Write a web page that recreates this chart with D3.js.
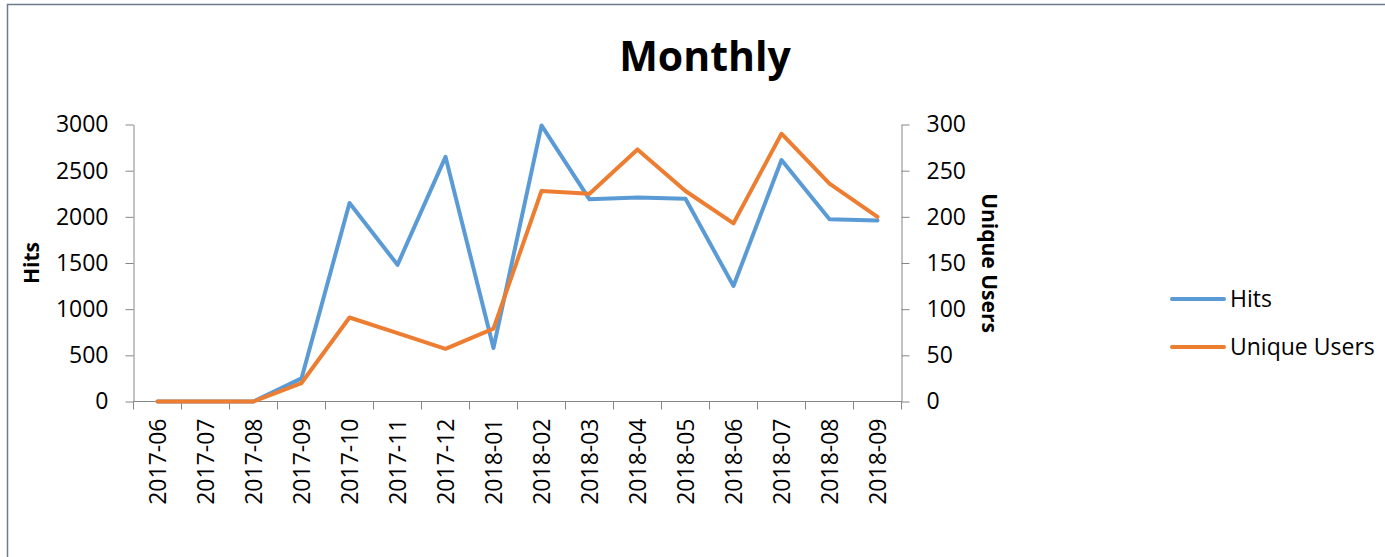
<!DOCTYPE html>
<html>
<head>
<meta charset="utf-8">
<script src="https://cdn.jsdelivr.net/npm/d3@7"></script>
<style>
  body { margin: 0; background: #fff; }
  text { font-family: "Open Sans", "Noto Sans", sans-serif; fill: #000; }
</style>
</head>
<body>
<div id="chart"></div>
<script>
// data
var months = ["2017-06","2017-07","2017-08","2017-09","2017-10","2017-11","2017-12","2018-01",
              "2018-02","2018-03","2018-04","2018-05","2018-06","2018-07","2018-08","2018-09"];
var hits = [0, 0, 0, 250, 2150, 1480, 2650, 580, 2990, 2190, 2210, 2195, 1250, 2615, 1975, 1960];
var users = [0, 0, 0, 20, 91, 74, 57, 79, 228, 225, 273, 228, 193, 290, 236, 200];
var hitsTicks = [0, 500, 1000, 1500, 2000, 2500, 3000];
var usersTicks = [0, 50, 100, 150, 200, 250, 300];
var seriesNames = ["Hits", "Unique Users"];
var colors = ["#5b9bd5", "#ed7d31"];

var W = 1385, H = 557;
var plotLeft = 133.5, plotRight = 901.5, plotTop = 124.5, plotBottom = 401.5;
var axisColor = "#868686";

var svg = d3.select("#chart")
  .append("svg")
    .attr("width", W)
    .attr("height", H);

// outer frame
svg.append("rect")
  .attr("x", 7.5).attr("y", 4.5)
  .attr("width", W + 20).attr("height", H + 20)
  .attr("fill", "none")
  .attr("stroke", "#6d7b8d")
  .attr("stroke-width", 1.5);

// scales
var x = d3.scaleBand().domain(months).range([plotLeft, plotRight]);
var yL = d3.scaleLinear().domain([0, 3000]).range([plotBottom, plotTop]);
var yR = d3.scaleLinear().domain([0, 300]).range([plotBottom, plotTop]);

// title
svg.append("text")
  .attr("x", 705).attr("y", 71)
  .attr("text-anchor", "middle")
  .style("font-size", "41px")
  .style("font-weight", "bold")
  .text("Monthly");

// left axis
var gL = svg.append("g")
  .attr("transform", "translate(" + plotLeft + ",0)")
  .call(d3.axisLeft(yL).tickValues(hitsTicks).tickFormat(d3.format("d"))
    .tickSize(8).tickSizeOuter(0).tickPadding(17));

// right axis
var gR = svg.append("g")
  .attr("transform", "translate(" + plotRight + ",0)")
  .call(d3.axisRight(yR).tickValues(usersTicks).tickFormat(d3.format("d"))
    .tickSize(8).tickSizeOuter(0).tickPadding(17));

// bottom axis, ticks between categories
var gB = svg.append("g")
  .attr("transform", "translate(0," + plotBottom + ")")
  .call(d3.axisBottom(x).tickSize(0).tickPadding(0));
gB.select(".domain").remove();
gB.append("line")
  .attr("x1", plotLeft).attr("x2", plotRight)
  .attr("stroke", axisColor);
gB.selectAll(".sep")
  .data(months.concat(["end"]))
  .enter().append("line")
    .attr("class", "sep")
    .attr("x1", function(d, i) { return plotLeft + i * x.step(); })
    .attr("x2", function(d, i) { return plotLeft + i * x.step(); })
    .attr("y1", 0).attr("y2", 8)
    .attr("stroke", axisColor);
gB.selectAll(".tick text")
  .attr("transform", "rotate(-90)")
  .attr("x", -17)
  .attr("y", 0)
  .attr("dy", "0.35em")
  .attr("text-anchor", "end");

[gL, gR, gB].forEach(function(g) {
  g.selectAll(".domain").attr("stroke", axisColor);
  g.selectAll(".tick line").attr("stroke", axisColor);
  g.selectAll("text")
    .style("font-size", "23px")
    .style("font-family", "'Open Sans', sans-serif")
    .attr("fill", "#000");
});

// axis titles
svg.append("text")
  .attr("transform", "translate(39,263) rotate(-90)")
  .attr("text-anchor", "middle")
  .style("font-size", "21px")
  .style("font-weight", "bold")
  .text("Hits");

svg.append("text")
  .attr("transform", "translate(982,263) rotate(90)")
  .attr("text-anchor", "middle")
  .style("font-size", "21px")
  .style("font-weight", "bold")
  .text("Unique Users");

// lines
var cx = function(i) { return x(months[i]) + x.bandwidth() / 2; };
var lineL = d3.line().x(function(d, i) { return cx(i); }).y(function(d) { return yL(d); });
var lineR = d3.line().x(function(d, i) { return cx(i); }).y(function(d) { return yR(d); });

svg.append("path")
  .attr("d", lineL(hits))
  .attr("fill", "none")
  .attr("stroke", colors[0])
  .attr("stroke-width", 4)
  .attr("stroke-linejoin", "round")
  .attr("stroke-linecap", "round");

svg.append("path")
  .attr("d", lineR(users))
  .attr("fill", "none")
  .attr("stroke", colors[1])
  .attr("stroke-width", 4)
  .attr("stroke-linejoin", "round")
  .attr("stroke-linecap", "round");

// legend
var legend = svg.selectAll(".legend")
  .data(seriesNames)
  .enter().append("g")
    .attr("class", "legend")
    .attr("transform", function(d, i) { return "translate(1172," + (299 + i * 48) + ")"; });
legend.append("line")
  .attr("x1", 0).attr("x2", 52)
  .attr("stroke", function(d, i) { return colors[i]; })
  .attr("stroke-width", 4)
  .attr("stroke-linecap", "round");
legend.append("text")
  .attr("x", 58)
  .attr("dy", "0.35em")
  .style("font-size", "23px")
  .text(function(d) { return d; });
</script>
</body>
</html>
